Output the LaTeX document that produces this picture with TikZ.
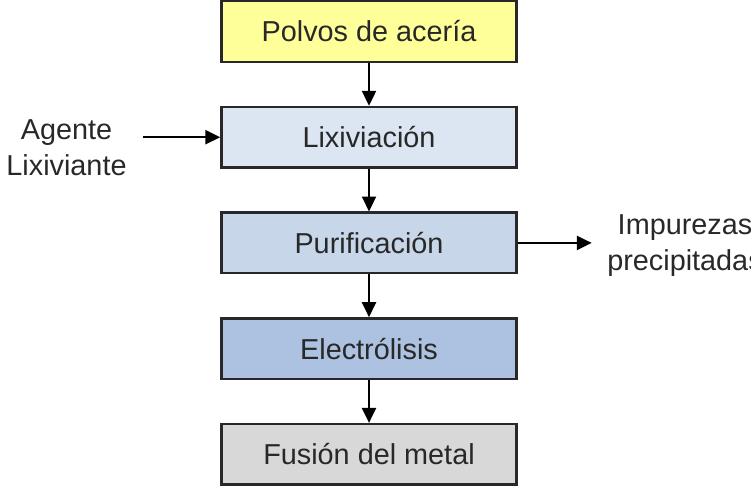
\documentclass[tikz,border=0pt]{standalone}
\usepackage{fontspec}
\setmainfont{Liberation Sans}
\usepackage{tikz}
\usetikzlibrary{arrows.meta,positioning}
\usepackage{xcolor}
\definecolor{cYellow}{RGB}{255,255,153}
\definecolor{cPale}{RGB}{220,230,242}
\definecolor{cSoft}{RGB}{200,214,234}
\definecolor{cMid}{RGB}{172,194,224}
\definecolor{cGray}{RGB}{216,216,216}
\definecolor{cInk}{RGB}{40,40,40}
\tikzset{
  basebox/.style={rectangle,draw=cInk,line width=1.4pt,align=center,
                  text=cInk,font=\fontsize{16.4}{20.5}\selectfont,
                  minimum width=5.9cm,minimum height=1.21cm},
  feednode/.style={basebox,fill=cYellow},
  leachnode/.style={basebox,fill=cPale},
  purenode/.style={basebox,fill=cSoft},
  elecnode/.style={basebox,fill=cMid},
  meltnode/.style={basebox,fill=cGray},
  sidelbl/.style={align=center,text=cInk,font=\fontsize{16.4}{20.5}\selectfont},
  arr/.style={-{Triangle[length=8.5pt,width=8pt]},line width=1.2pt,color=black}
}
\begin{document}
\begin{tikzpicture}[node distance=0.855cm]
  \useasboundingbox (0,0) rectangle (15.02,-9.84);
  % main chain
  \node[feednode] (polvos) at (7.38,-0.63) {Polvos de acería};
  \node[leachnode,below=of polvos] (lix) {Lixiviación};
  \node[purenode,below=of lix] (pur) {Purificación};
  \node[elecnode,below=of pur] (elec) {Electrólisis};
  \node[meltnode,below=of elec] (fus) {Fusión del metal};
  % side streams
  \coordinate[left=1.54cm of lix.west] (agin);
  \node[sidelbl] (agente) at (1.33,-2.95) {Agente\\Lixiviante};
  \coordinate[right=1.48cm of pur.east] (impout);
  \node[sidelbl] (imp) at (13.7,-4.92) {Impurezas\\precipitadas};
  % arrows
  \draw[arr] (polvos) -- (lix);
  \draw[arr] (lix) -- (pur);
  \draw[arr] (pur) -- (elec);
  \draw[arr] (elec) -- (fus);
  \draw[arr] (agin) -- (lix.west);
  \draw[arr] (pur.east) -- (impout);
\end{tikzpicture}
\end{document}
